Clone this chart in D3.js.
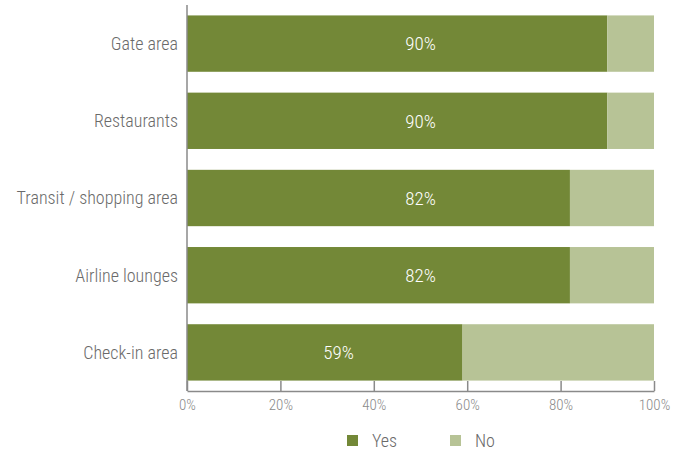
<!DOCTYPE html>
<html>
<head>
<meta charset="utf-8">
<script src="https://cdn.jsdelivr.net/npm/d3@7"></script>
<style>
  html, body { margin: 0; padding: 0; background: #fff; }
  svg { display: block; }
  text { font-family: "Roboto Condensed", "Liberation Sans Narrow", "DejaVu Sans Condensed", Roboto, sans-serif; }
</style>
</head>
<body>
<svg id="chart" width="686" height="450"></svg>
<script>
// Share of respondents per airport location
const categories = ["Gate area", "Restaurants", "Transit / shopping area", "Airline lounges", "Check-in area"];
const yesValues = [90, 90, 82, 82, 59];
const noValues = [10, 10, 18, 18, 41];
const tickValues = [0, 20, 40, 60, 80, 100];
const seriesNames = ["Yes", "No"];
const seriesColors = ["#738837", "#b7c396"];

const svg = d3.select("#chart");
const plotLeft = 187, plotRight = 654, plotTop = 5, plotBottom = 391;
const fontStack = "'Roboto Condensed', 'Liberation Sans Narrow', 'DejaVu Sans Condensed', Roboto, sans-serif";

const x = d3.scaleLinear().domain([0, 100]).range([plotLeft, plotRight]);
const y = d3.scaleBand().domain(categories).range([plotTop, plotBottom])
  .paddingInner(0.27).paddingOuter(0.135);

const rows = categories.map((c, i) => ({ cat: c, yes: yesValues[i], no: noValues[i] }));

// Stacked bars: "Yes" from 0, "No" on top of it
const g = svg.append("g");
g.selectAll("rect.yes").data(rows).join("rect")
  .attr("class", "yes")
  .attr("x", x(0))
  .attr("y", d => y(d.cat))
  .attr("width", d => x(d.yes) - x(0))
  .attr("height", y.bandwidth())
  .attr("fill", seriesColors[0]);
g.selectAll("rect.no").data(rows).join("rect")
  .attr("class", "no")
  .attr("x", d => x(d.yes))
  .attr("y", d => y(d.cat))
  .attr("width", d => x(d.yes + d.no) - x(d.yes))
  .attr("height", y.bandwidth())
  .attr("fill", seriesColors[1]);

// Value labels: centred on the full bar for long segments, pulled left for shorter ones
g.selectAll("text.val").data(rows).join("text")
  .attr("class", "val")
  .attr("x", d => x(d.yes >= 75 ? 50 : d.yes * 0.55))
  .attr("y", d => y(d.cat) + y.bandwidth() / 2)
  .attr("dy", "0.36em")
  .attr("text-anchor", "middle")
  .attr("fill", "#fff")
  .attr("font-size", 19)
  .attr("font-weight", 300)
  .text(d => d.yes + "%");

// Category labels
svg.append("g").selectAll("text").data(categories).join("text")
  .attr("x", plotLeft - 9)
  .attr("y", d => y(d) + y.bandwidth() / 2)
  .attr("dy", "0.36em")
  .attr("text-anchor", "end")
  .attr("fill", "#6a6a6a")
  .attr("font-size", 18)
  .attr("font-weight", 300)
  .text(d => d);

// Vertical axis line
svg.append("line")
  .attr("x1", plotLeft).attr("x2", plotLeft)
  .attr("y1", plotTop).attr("y2", plotBottom)
  .attr("stroke", "#8a8a8a").attr("stroke-width", 1.5);

// Bottom axis with upward ticks
const xAxis = d3.axisBottom(x).tickValues(tickValues)
  .tickFormat(d => d + "%").tickSizeInner(-10).tickSizeOuter(0).tickPadding(8);
const ax = svg.append("g").attr("transform", `translate(0,${plotBottom})`).call(xAxis);
ax.select(".domain").attr("stroke", "#8a8a8a").attr("stroke-width", 1.5);
ax.selectAll(".tick line").attr("stroke", "#8a8a8a").attr("stroke-width", 1.5)
  .attr("y2", -10);
ax.selectAll(".tick text").attr("fill", "#8a8a8a").attr("font-size", 15)
  .attr("font-weight", 300).attr("y", 8)
  .style("font-family", fontStack);

// Legend
const legendX = [347, 450];
const lg = svg.append("g");
seriesNames.forEach((name, i) => {
  lg.append("rect")
    .attr("x", legendX[i]).attr("y", 435)
    .attr("width", 11).attr("height", 11)
    .attr("fill", seriesColors[i]);
  lg.append("text")
    .attr("x", legendX[i] + 25).attr("y", 441)
    .attr("dy", "0.36em")
    .attr("fill", "#6a6a6a")
    .attr("font-size", 18)
    .attr("font-weight", 300)
    .text(name);
});
</script>
</body>
</html>
